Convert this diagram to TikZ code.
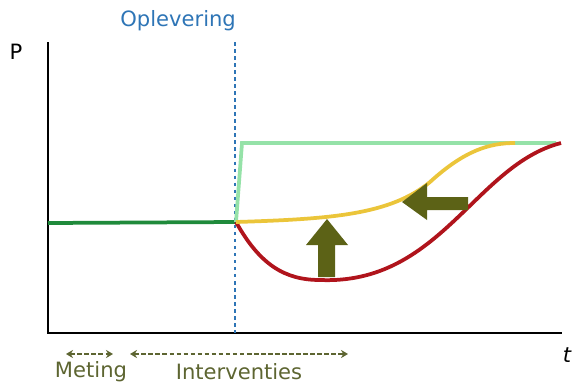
\documentclass[tikz,border=0pt]{standalone}
\usepackage{fontspec}
\setmainfont{DejaVu Sans}
\usetikzlibrary{arrows.meta}
\definecolor{oplblue}{HTML}{2E75B6}
\definecolor{darkgrn}{HTML}{1F8A3B}
\definecolor{lightgrn}{HTML}{95E2A8}
\definecolor{curvered}{HTML}{B0141C}
\definecolor{curveyel}{HTML}{EBC53A}
\definecolor{arrowolive}{HTML}{5C6216}
\definecolor{labelolive}{HTML}{5D6531}

\begin{document}
\begin{tikzpicture}[x=0.03cm, y=-0.03cm, font=\fontsize{18}{21}\selectfont, axis/.style={line width=2.4pt, black}, curve/.style={line width=3.2pt}, big arrow/.style={fill=arrowolive, draw=none}, span/.style={{Stealth[length=6pt,width=7pt]}-{Stealth[length=6pt,width=7pt]}, dash pattern=on 4pt off 2pt, line width=1.8pt, labelolive}]

    \useasboundingbox (0,0) rectangle (573,385);

    % =========================================================================
    % Assen
    % =========================================================================
    \coordinate (ytop) at (48,42);
    \coordinate (origin) at (48,333);
    \coordinate (xend) at (562,333);
    \draw[axis] (ytop) -- (origin) -- (xend);
    \node (p) at (16,52) {P};
    \node (t) at (567,355) {\itshape t};

    % Oplevering
    \coordinate (optop) at (235,42);
    \coordinate (opbot) at (235,333);
    \draw[oplblue, dashed, line width=1.1pt] (optop) -- (opbot);
    \node[oplblue, anchor=east] (oplevering) at (240,21) {Oplevering};

    % =========================================================================
    % Curves
    % =========================================================================
    \coordinate (start) at (48,223);
    \coordinate (handover) at (236,222);
    \coordinate (jump) at (242,143);
    \coordinate (target) at (556,143);
    \coordinate (dip) at (320,280);
    \coordinate (redend) at (561,143);
    \coordinate (yelend) at (515,143);

    \draw[curve, darkgrn] (start) -- (handover);
    \draw[curve, lightgrn] (handover) -- (jump) -- (target);
    \draw[curve, curvered] (handover) .. controls (260,265) and (285,280) .. (dip)
        .. controls (440,285) and (475,165) .. (redend);
    \draw[curve, curveyel] (handover) .. controls (330,219) and (390,215) .. (430,182)
        .. controls (465,150) and (490,143) .. (yelend);

    % Verbeterpijlen
    \draw[big arrow] (318,277) -- (318,245) -- (306,245) -- (327,219) -- (348,245)
        -- (335,245) -- (335,277) -- cycle;
    \draw[big arrow] (468,197) -- (427,197) -- (427,183) -- (402,202) -- (427,220)
        -- (427,210) -- (468,210) -- cycle;

    % =========================================================================
    % Fasen onder de as
    % =========================================================================
    \coordinate (m1) at (66,354);
    \coordinate (m2) at (113,354);
    \coordinate (i1) at (130,354);
    \coordinate (i2) at (348,354);
    \draw[span] (m1) -- (m2);
    \draw[span] (i1) -- (i2);
    \node[labelolive, inner sep=1pt] (meting) at (91,372) {Meting};
    \node[labelolive, inner sep=1pt] (interventies) at (239,372) {Interventies};

\end{tikzpicture}
\end{document}
